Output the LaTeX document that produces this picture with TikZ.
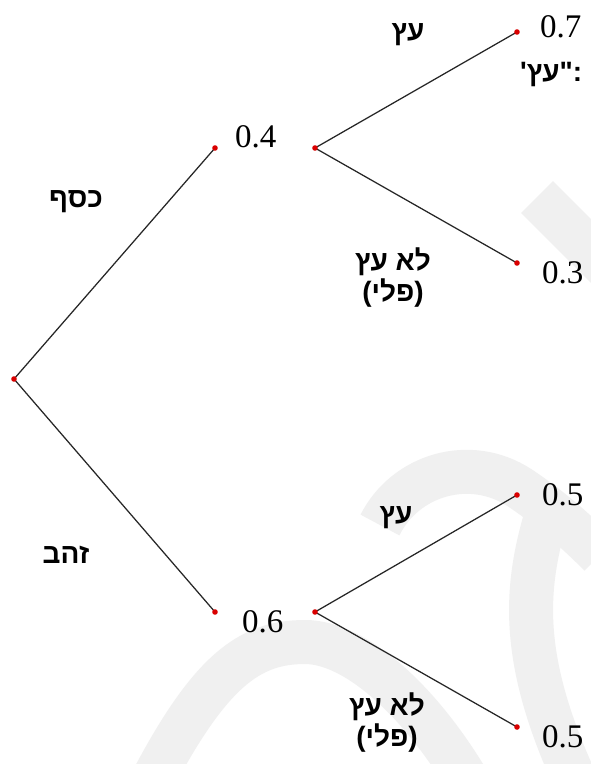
\documentclass[tikz,border=0pt]{standalone}
\usepackage{fontspec}
\newfontfamily\hebfont[Script=Hebrew]{Liberation Sans}
\newfontfamily\numfont{Liberation Serif}
\TeXXeTstate=1

\begin{document}
\begin{tikzpicture}[x=1pt, y=-1pt,
  branch/.style={draw=black!85, line width=1.25pt},
  dot/.style   ={fill=red!85!black},
  prob/.style  ={font=\numfont\fontsize{33}{33}\selectfont, inner sep=0pt, anchor=base west},
  heb/.style   ={font=\hebfont\bfseries\fontsize{28}{31}\selectfont, inner sep=0pt, align=center},
  wmark/.style ={draw=black!6, line width=44pt}]

  \useasboundingbox (0,0) rectangle (591,764);
  \fill[white] (0,0) rectangle (591,764);

  % ---------------- watermark ----------------
  \draw[wmark] (150,785) .. controls (210,670) and (250,642) .. (305,642)
               .. controls (355,642) and (420,700) .. (470,785);
  \draw[wmark] (380,525) .. controls (405,475) and (470,455) .. (520,488)
               .. controls (550,508) and (575,530) .. (600,555);
  \draw[wmark] (545,520) .. controls (525,590) and (520,660) .. (575,780);
  \draw[wmark, line width=45pt] (537,197) -- (660,320);

  % ---------------- split points ----------------
  \coordinate (root)      at (14,379);
  \coordinate (silverEnd) at (215,148);  \coordinate (silverOut) at (315,148);
  \coordinate (goldEnd)   at (215,612);  \coordinate (goldOut)   at (315,612);
  \coordinate (silverTree)  at (517,32);   \coordinate (silverFruit) at (517,263);
  \coordinate (goldTree)    at (517,495);  \coordinate (goldFruit)   at (517,727);

  % ---------------- branches ----------------
  \draw[branch] (root) -- (silverEnd);
  \draw[branch] (root) -- (goldEnd);
  \draw[branch] (silverOut) -- (silverTree);
  \draw[branch] (silverOut) -- (silverFruit);
  \draw[branch] (goldOut) -- (goldTree);
  \draw[branch] (goldOut) -- (goldFruit);

  \foreach \p in {root,silverEnd,silverOut,goldEnd,goldOut,silverTree,silverFruit,goldTree,goldFruit}
    \fill[dot] (\p) circle (2.8pt);

  % ---------------- probabilities ----------------
  \node[prob] (pSilver)      at (235,147) {0.4};
  \node[prob] (pGold)        at (242,632) {0.6};
  \node[prob] (pSilverTree)  at (540,37)  {0.7};
  \node[prob] (pSilverFruit) at (542,283) {0.3};
  \node[prob] (pGoldTree)    at (542,505) {0.5};
  \node[prob] (pGoldFruit)   at (542,747) {0.5};

  % ---------------- branch labels ----------------
  \node[heb, anchor=base] (lSilver) at (76,207)  {כסף};
  \node[heb, anchor=base] (lGold)   at (66,563)  {זהב};
  \node[heb, anchor=base] (lTreeA)  at (408,40)  {עץ};
  \node[heb, anchor=base] (lTreeB)  at (396,523) {עץ};
  \node[heb, anchor=north] (lFruitA) at (393,248) {\beginR לא עץ\endR\\\beginR(פלי)\endR};
  \node[heb, anchor=north] (lFruitB) at (387,693) {\beginR לא עץ\endR\\\beginR(פלי)\endR};
  \node[heb, anchor=base west] (lNote) at (520,81) {\hbox{'}\hbox{עץ}\hbox{"}\hbox{:}};
\end{tikzpicture}
\end{document}
